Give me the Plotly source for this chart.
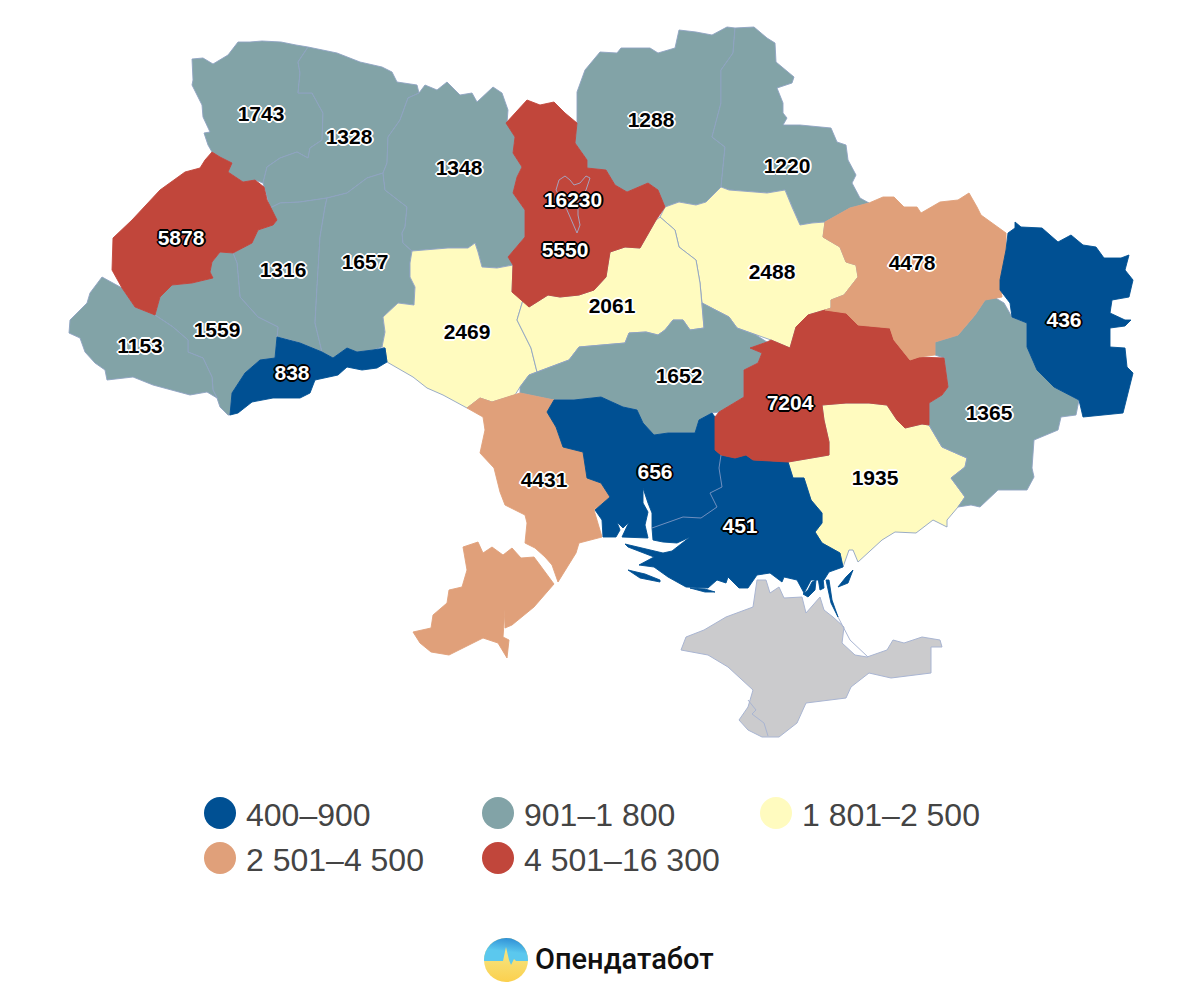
import base64
import plotly.graph_objects as go

# Map geometry, in map units
volyn = [(192,59),(203,58),(213,64),(228,55),(238,42),(250,42),(262,41),(281,42),(296,45),(308,47),(298,62),(300,73),(298,93),(312,93),(323,113),(322,140),(310,148),(308,158),(297,152),(280,158),(267,167),(263,183),(255,180),(243,182),(228,172),(232,163),(220,157),(212,152),(208,145),(204,133),(210,132),(203,117),(202,105),(192,85),(193,80)]
rivne = [(308,47),(337,53),(360,62),(382,67),(392,72),(397,82),(417,85),(419,93),(408,98),(400,120),(388,137),(387,163),(383,173),(367,178),(347,193),(327,198),(300,202),(280,203),(270,208),(264,187),(263,183),(267,167),(280,158),(297,152),(308,158),(310,148),(322,140),(323,113),(312,93),(298,93),(300,73),(298,62)]
lviv = [(212,152),(220,157),(232,163),(228,172),(243,182),(255,180),(264,187),(267,200),(277,220),(273,225),(258,230),(252,243),(233,253),(220,252),(212,262),(210,272),(213,278),(192,283),(172,285),(160,297),(155,315),(135,307),(122,288),(112,270),(113,238),(132,220),(160,190),(185,172),(200,168),(205,160)]
ternopil = [(270,208),(280,203),(300,202),(327,198),(325,207),(320,237),(317,287),(315,323),(322,352),(300,343),(290,340),(277,337),(278,327),(258,317),(240,297),(237,263),(233,253),(252,243),(258,230),(273,225),(277,220)]
khmelnytskyi = [(327,198),(347,193),(367,178),(383,173),(385,190),(407,207),(405,227),(402,233),(403,243),(412,251),(410,263),(410,277),(415,287),(414,305),(398,303),(383,317),(385,332),(382,347),(373,350),(357,352),(347,348),(333,358),(322,352),(315,323),(317,287),(320,237),(325,207)]
chernivtsi = [(277,337),(290,340),(300,343),(322,352),(333,358),(347,348),(357,352),(373,350),(385,348),(387,362),(377,368),(362,370),(347,367),(338,375),(315,380),(310,393),(300,398),(273,398),(252,402),(238,413),(230,415),(232,393),(245,373),(260,360),(275,358)]
ivano_frankivsk = [(155,315),(160,297),(172,285),(192,283),(213,278),(210,272),(212,262),(220,252),(233,253),(237,263),(240,297),(258,317),(278,327),(277,337),(275,358),(260,360),(245,373),(232,393),(230,415),(228,415),(220,407),(217,398),(213,390),(212,377),(203,358),(188,352),(188,340),(173,327)]
zakarpattia = [(155,315),(135,307),(122,288),(102,277),(90,293),(87,303),(70,320),(69,333),(80,338),(85,352),(95,363),(105,370),(107,380),(133,377),(153,385),(173,390),(190,395),(207,392),(217,398),(213,390),(212,377),(203,358),(188,352),(188,340),(173,327)]
zhytomyr = [(419,93),(425,85),(437,90),(447,82),(460,95),(472,93),(477,102),(493,87),(502,93),(508,110),(507,123),(515,137),(513,153),(522,167),(517,177),(513,193),(525,210),(525,237),(508,257),(513,265),(497,268),(482,267),(478,252),(475,243),(468,248),(448,248),(412,251),(403,243),(402,233),(405,227),(407,207),(385,190),(383,173),(387,163),(388,137),(400,120),(408,98)]
vinnytsia = [(412,251),(448,248),(468,248),(475,243),(478,252),(482,267),(497,268),(513,265),(512,292),(523,300),(517,320),(531,348),(537,372),(529,375),(520,387),(515,395),(492,402),(480,398),(467,408),(443,395),(427,388),(413,377),(387,362),(385,348),(382,347),(385,332),(383,317),(398,303),(414,305),(415,287),(410,277),(410,263)]
kyiv_oblast = [(506,123),(527,100),(540,105),(554,102),(565,113),(577,123),(575,143),(587,160),(587,168),(606,170),(615,185),(627,192),(648,183),(658,190),(665,207),(656,220),(640,248),(625,247),(610,252),(606,277),(594,290),(579,295),(560,297),(548,295),(529,307),(512,292),(513,265),(508,257),(525,237),(525,210),(513,193),(517,177),(522,167),(513,153),(515,137)]
kyiv_city = [(556,190),(559,180),(565,176),(570,180),(574,185),(580,183),(586,176),(590,178),(586,190),(578,200),(578,215),(580,225),(577,233),(571,218),(567,210)]
chernihiv = [(577,92),(585,70),(600,52),(617,53),(621,48),(650,48),(658,53),(675,48),(679,30),(696,32),(712,35),(727,27),(735,28),(733,53),(721,70),(721,103),(712,137),(725,147),(721,187),(706,202),(696,205),(679,202),(665,207),(658,190),(648,183),(627,192),(615,185),(606,170),(587,168),(587,160),(575,143),(577,123)]
sumy = [(735,28),(754,27),(767,38),(775,43),(776,62),(794,77),(792,83),(777,88),(783,103),(783,113),(787,118),(783,125),(800,125),(831,128),(837,142),(846,145),(848,160),(856,175),(852,183),(860,198),(869,203),(850,208),(825,222),(812,223),(800,225),(792,207),(785,190),(767,193),(729,190),(721,187),(725,147),(712,137),(721,103),(721,70),(733,53)]
poltava = [(665,207),(679,202),(696,205),(706,202),(721,187),(729,190),(767,193),(785,190),(792,207),(800,225),(812,223),(825,222),(823,237),(840,247),(846,262),(856,265),(858,277),(850,287),(844,295),(831,300),(831,308),(825,310),(808,315),(796,327),(790,348),(771,340),(756,335),(737,328),(729,317),(702,303),(700,283),(696,260),(679,247),(675,230),(660,217)]
cherkasy = [(660,217),(675,230),(679,247),(696,260),(700,283),(702,303),(704,328),(690,330),(683,320),(673,320),(665,330),(658,335),(646,332),(629,333),(625,343),(579,347),(569,360),(537,372),(531,348),(517,320),(523,300),(529,307),(548,295),(560,297),(579,295),(594,290),(606,277),(610,252),(625,247),(640,248),(656,220)]
kirovohrad = [(520,387),(529,375),(537,372),(569,360),(579,347),(625,343),(629,333),(646,332),(658,335),(665,330),(673,320),(683,320),(690,330),(704,328),(702,303),(729,317),(737,328),(756,335),(767,342),(750,348),(762,353),(758,363),(744,370),(744,397),(719,412),(712,413),(699,420),(695,433),(668,433),(654,435),(643,423),(637,410),(623,407),(601,397),(574,400),(554,400),(520,393)]
odesa_north = [(467,408),(480,398),(492,402),(520,393),(554,400),(547,412),(556,427),(563,447),(583,452),(587,478),(601,483),(610,497),(594,510),(602,537),(579,543),(576,553),(558,582),(552,565),(545,557),(535,548),(525,543),(527,523),(525,515),(505,505),(500,492),(494,468),(480,453),(485,430),(483,417)]
odesa_south = [(463,547),(478,542),(483,553),(492,547),(503,555),(512,548),(521,558),(534,557),(540,565),(554,584),(534,607),(518,620),(512,625),(505,628),(505,610),(503,637),(509,640),(507,658),(498,643),(483,638),(458,650),(449,655),(431,652),(420,643),(413,632),(431,628),(433,615),(447,603),(449,590),(462,587),(467,570)]
mykolaiv = [(554,400),(574,400),(601,397),(623,407),(637,410),(643,423),(654,435),(668,433),(695,433),(699,420),(712,413),(715,417),(715,443),(715,450),(721,455),(719,468),(722,487),(710,493),(717,507),(701,518),(683,517),(668,522),(652,528),(652,513),(648,503),(643,488),(643,503),(648,512),(645,525),(648,538),(622,537),(629,522),(623,528),(617,522),(620,530),(616,537),(603,537),(602,520),(595,510),(610,497),(601,483),(587,478),(583,452),(563,447),(556,427),(547,412)]
kherson = [(652,528),(668,522),(683,517),(701,518),(717,507),(710,493),(722,487),(719,468),(721,455),(735,458),(746,455),(753,460),(788,462),(793,478),(804,478),(811,500),(822,513),(822,523),(815,532),(822,543),(840,553),(843,567),(829,572),(824,580),(811,580),(804,593),(797,580),(784,577),(782,582),(770,573),(757,575),(748,588),(739,588),(728,577),(726,583),(717,580),(708,588),(686,587),(668,577),(654,567),(639,565),(654,557),(628,547),(625,544),(663,553),(672,551),(690,537),(677,543),(663,542),(653,540)]
kherson_isle_1 = [(628,570),(645,574),(660,580),(660,582),(640,578)]
kherson_isle_2 = [(690,588),(705,589),(715,592),(705,592)]
kherson_isle_3 = [(826,580),(829,580),(832,600),(838,617),(831,603)]
kherson_isle_4 = [(838,587),(846,577),(853,570),(848,583)]
kherson_isle_5 = [(803,594),(808,590),(812,582),(816,580),(815,590),(808,597)]
kherson_isle_6 = [(818,578),(823,578),(824,588),(820,590)]
zaporizhzhia = [(822,405),(846,403),(869,403),(887,405),(897,420),(905,428),(922,424),(929,425),(942,447),(967,458),(965,467),(951,478),(965,497),(958,507),(947,520),(947,527),(933,520),(916,533),(895,532),(882,540),(858,562),(853,550),(849,550),(843,567),(840,553),(822,543),(815,532),(822,523),(822,513),(811,500),(804,478),(793,478),(788,462),(829,455),(829,442),(824,420)]
dnipro = [(790,348),(796,327),(808,315),(825,310),(846,313),(858,325),(890,328),(894,340),(910,360),(919,357),(944,358),(948,387),(942,395),(929,403),(929,425),(922,424),(905,428),(897,420),(887,405),(869,403),(846,403),(822,405),(824,420),(829,442),(829,455),(788,462),(753,460),(746,455),(735,458),(721,455),(715,450),(715,443),(715,417),(719,412),(744,397),(744,370),(758,363),(762,353),(750,348),(767,342),(771,340)]
kharkiv = [(823,237),(825,222),(850,208),(869,203),(883,197),(894,197),(904,207),(917,207),(921,213),(940,202),(958,200),(969,193),(977,207),(981,215),(1006,233),(1006,253),(1000,280),(1002,297),(985,300),(975,315),(958,335),(935,342),(935,355),(919,357),(910,360),(894,340),(890,328),(858,325),(846,313),(825,310),(831,308),(831,300),(844,295),(850,287),(858,277),(856,265),(846,262),(840,247)]
luhansk = [(1015,222),(1021,227),(1042,228),(1058,242),(1071,235),(1083,245),(1096,247),(1104,258),(1121,258),(1129,255),(1125,270),(1133,280),(1129,297),(1112,300),(1110,313),(1125,320),(1131,320),(1125,326),(1110,328),(1110,347),(1125,348),(1127,367),(1133,373),(1127,397),(1123,413),(1083,417),(1079,400),(1054,387),(1037,370),(1027,347),(1027,323),(1012,317),(1010,303),(1000,290),(1000,280),(1006,250),(1008,233),(1015,228)]
donetsk = [(985,300),(994,297),(1004,303),(1012,317),(1027,323),(1027,347),(1037,370),(1054,387),(1079,400),(1076,415),(1061,417),(1058,430),(1034,440),(1032,468),(1034,477),(1027,490),(998,490),(980,507),(971,505),(958,507),(965,497),(951,478),(965,467),(967,458),(942,447),(929,425),(929,403),(942,395),(948,387),(944,358),(935,355),(935,342),(958,335),(975,315)]
crimea = [(757,580),(755,593),(753,607),(726,617),(704,630),(686,637),(681,650),(708,655),(728,667),(753,690),(748,707),(739,720),(748,730),(762,737),(779,737),(797,723),(806,703),(846,698),(851,687),(869,673),(891,678),(931,673),(931,647),(942,647),(940,640),(922,637),(904,643),(893,640),(887,650),(867,657),(855,655),(842,643),(844,627),(833,617),(824,610),(820,597),(806,613),(802,597),(784,598),(779,587),(770,593),(766,580)]
sevastopol_line = [(748,700),(756,710),(752,714),(764,723),(768,736)]
arabat_line = [(838,617),(850,640),(868,657)]
mykolaiv_kherson_border = [(652,528),(668,522),(683,517),(701,518),(717,507),(710,493),(722,487),(719,468),(721,455)]

# Values and value bins
bin_labels = ["400–900", "901–1 800", "1 801–2 500", "2 501–4 500", "4 501–16 300"]
bin_upper = [900, 1800, 2500, 4500, 16300]
bin_colors = ["#005093", "#82A3A7", "#FFFBBF", "#E0A07A", "#C1463B"]

region_names = ["Волинська", "Рівненська", "Львівська", "Тернопільська", "Хмельницька", "Чернівецька", "Івано-Франківська", "Закарпатська", "Житомирська", "Вінницька", "Київська", "Чернігівська", "Сумська", "Полтавська", "Черкаська", "Кіровоградська", "Одеська", "Миколаївська", "Херсонська", "Запорізька", "Дніпропетровська", "Харківська", "Луганська", "Донецька", "м. Київ"]
region_values = [1743, 1328, 5878, 1316, 1657, 838, 1559, 1153, 1348, 2469, 5550, 1288, 1220, 2488, 2061, 1652, 4431, 656, 451, 1935, 7204, 4478, 436, 1365, 16230]
label_x = [261, 349, 181, 283, 365, 292, 217, 140, 459, 467, 565, 651, 787, 772, 612, 679, 544, 655, 740, 875, 790, 912, 1064, 989, 573]
label_y = [116, 139, 240, 272, 264, 375, 332, 348, 170, 334, 252, 122, 168, 274, 308, 378, 482, 474, 528, 480, 405, 265, 322, 415, 202]
region_shapes = [[volyn], [rivne], [lviv], [ternopil], [khmelnytskyi], [chernivtsi], [ivano_frankivsk], [zakarpattia], [zhytomyr], [vinnytsia], [kyiv_oblast], [chernihiv], [sumy], [poltava], [cherkasy], [kirovohrad], [odesa_north, odesa_south], [mykolaiv], [kherson, kherson_isle_1, kherson_isle_2, kherson_isle_3, kherson_isle_4, kherson_isle_5, kherson_isle_6], [zaporizhzhia], [dnipro], [kharkiv], [luhansk], [donetsk], [kyiv_city]]

GREY = "#CBCBCD"
BORDER = "#8EA3C2"
TEXT_DARK = "#444444"


def bin_index(value):
    return next(i for i, top in enumerate(bin_upper) if value <= top)


def outline(rings):
    xs, ys = [], []
    for ring in rings:
        xs += [p[0] for p in ring] + [ring[0][0], None]
        ys += [p[1] for p in ring] + [ring[0][1], None]
    return xs, ys


def halo(colour):
    offs = [(1, 0), (-1, 0), (0, 1), (0, -1), (1, 1), (-1, -1), (1, -1), (-1, 1), (2, 0), (-2, 0), (0, 2), (0, -2)]
    return ", ".join(f"{a}px {b}px 0.5px {colour}" for a, b in offs)


fig = go.Figure()

# Lighter regions first, with a bluish border; darker ones on top with their own colour
order = sorted(range(len(region_names)), key=lambda i: (i == 24, bin_index(region_values[i]) not in (1, 2)))
for i in order:
    idx = bin_index(region_values[i])
    colour = bin_colors[idx]
    soft = idx in (1, 2)
    xs, ys = outline(region_shapes[i])
    is_city = region_names[i] == "м. Київ"
    fig.add_trace(go.Scatter(
        x=xs, y=ys, mode="lines", fill="toself", fillcolor=colour, name=region_names[i],
        line=dict(color="#A3ADCB" if is_city else (BORDER if soft else colour), width=0.9),
        hoverinfo="text", hovertext=f"{region_names[i]}: {region_values[i]}", showlegend=False,
    ))

fig.add_trace(go.Scatter(x=[p[0] for p in crimea] + [crimea[0][0]], y=[p[1] for p in crimea] + [crimea[0][1]],
                         mode="lines", fill="toself", fillcolor=GREY, line=dict(color="#A9B5D2", width=1),
                         hoverinfo="skip", showlegend=False))
for line_pts in (sevastopol_line, arabat_line, mykolaiv_kherson_border):
    fig.add_trace(go.Scatter(x=[p[0] for p in line_pts], y=[p[1] for p in line_pts], mode="lines",
                             line=dict(color="#A9B5D2" if line_pts is not mykolaiv_kherson_border else "#6F8FBF", width=1),
                             hoverinfo="skip", showlegend=False))

# Value labels: white with dark halo on dark fills, black with white halo on light fills
dark_fill = {0, 4}
light = [i for i in range(len(region_values)) if bin_index(region_values[i]) not in dark_fill]
dark = [i for i in range(len(region_values)) if bin_index(region_values[i]) in dark_fill]
for group, col, shadow in ((light, "#000000", "#FFFFFF"), (dark, "#FFFFFF", "#000000")):
    fig.add_trace(go.Scatter(
        x=[label_x[i] for i in group], y=[label_y[i] for i in group],
        text=[str(region_values[i]) for i in group], mode="text", textposition="middle center",
        textfont=dict(family="Liberation Sans", size=21, color=col, weight="bold", shadow=halo(shadow)),
        hoverinfo="skip", showlegend=False,
    ))

# Legend block
legend_x = [220, 498, 776, 220, 498]
legend_y = [813, 813, 813, 858, 858]
fig.add_trace(go.Scatter(x=legend_x, y=legend_y, mode="markers", marker=dict(size=32, color=bin_colors, line=dict(width=0)),
                         hoverinfo="skip", showlegend=False))
fig.add_trace(go.Scatter(x=[v + 26 for v in legend_x], y=[v + 5 for v in legend_y], mode="text", text=bin_labels, textposition="middle right",
                         textfont=dict(family="Liberation Sans", size=32, color=TEXT_DARK),
                         hoverinfo="skip", showlegend=False))

# Brand mark
svg = """<svg xmlns='http://www.w3.org/2000/svg' viewBox='0 0 44 44'>
<defs><linearGradient id='b' x1='0.6' y1='0' x2='0.4' y2='1'><stop offset='0' stop-color='#2F8FD6'/><stop offset='0.5' stop-color='#5BC8EE'/></linearGradient>
<linearGradient id='y' x1='0' y1='0' x2='0' y2='1'><stop offset='0.4' stop-color='#F6E27A'/><stop offset='1' stop-color='#FBD04E'/></linearGradient>
<clipPath id='c'><circle cx='22' cy='22' r='22'/></clipPath></defs>
<g clip-path='url(#c)'><rect width='44' height='44' fill='url(#y)'/>
<path d='M0 0H44V23H32L30 21L27 27L25 22L22 9L19 23H0Z' fill='url(#b)'/></g></svg>"""
fig.add_layout_image(dict(source="data:image/svg+xml;base64," + base64.b64encode(svg.encode()).decode(),
                          xref="x", yref="y", x=484, y=938, sizex=44, sizey=44, xanchor="left", yanchor="top", layer="above"))
fig.add_trace(go.Scatter(x=[535], y=[962], mode="text", text=["Опендатабот"], textposition="middle right",
                         textfont=dict(family="Roboto", size=29, color="#111111", weight=500),
                         hoverinfo="skip", showlegend=False))

fig.update_xaxes(range=[0, 1200], visible=False, fixedrange=True)
fig.update_yaxes(range=[1008, 0], visible=False, fixedrange=True)
fig.update_layout(width=1200, height=1008, margin=dict(l=0, r=0, t=0, b=0), paper_bgcolor="#FFFFFF",
                  plot_bgcolor="#FFFFFF", showlegend=False)
fig.write_html("out.html", config={"displayModeBar": False},
               post_script="document.body.style.margin='0';document.body.style.overflow='hidden';")
